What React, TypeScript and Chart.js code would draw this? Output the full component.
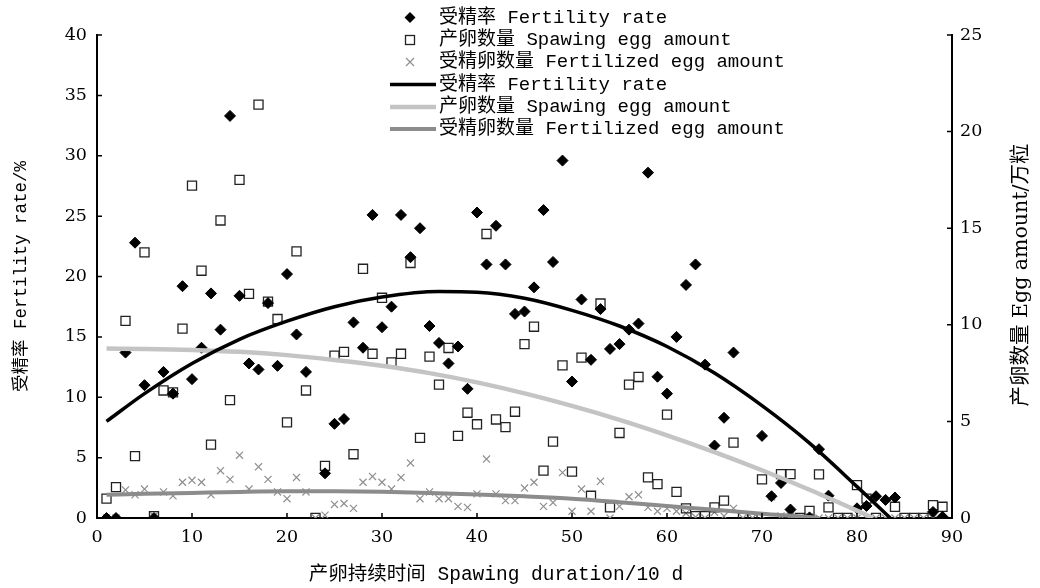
import React, { useEffect, useRef } from 'react';
import { Chart, registerables } from 'chart.js';

Chart.register(...registerables);

// Spawning duration (x, unit: 10 d)
const days = [
  1, 2, 3, 4, 5, 6, 7, 8, 9, 10, 11, 12, 13, 14, 15, 16, 17, 18, 19, 20,
  21, 22, 23, 24, 25, 26, 27, 28, 29, 30, 31, 32, 33, 34, 35, 36, 37, 38, 39, 40,
  41, 42, 43, 44, 45, 46, 47, 48, 49, 50, 51, 52, 53, 54, 55, 56, 57, 58, 59, 60,
  61, 62, 63, 64, 65, 66, 67, 68, 69, 70, 71, 72, 73, 74, 75, 76, 77, 78, 79, 80,
  81, 82, 83, 84, 85, 86, 87, 88, 89,
];

// 受精率 Fertility rate (%), left axis
const fertilityRate = [
  0, 0, 13.7, 22.8, 11.0, 0, 12.1, 10.3, 19.2, 11.5,
  14.1, 18.6, 15.6, 33.3, 18.4, 12.8, 12.3, 17.8, 12.6, 20.2,
  15.2, 12.1, null, 3.7, 7.8, 8.2, 16.2, 14.1, 25.1, 15.8,
  17.5, 25.1, 21.6, 24.0, 15.9, 14.5, 12.8, 14.2, 10.7, 25.3,
  21.0, 24.2, 21.0, 16.9, 17.1, 19.1, 25.5, 21.2, 29.6, 11.3,
  18.1, 13.1, 17.3, 14.0, 14.4, 15.6, 16.1, 28.6, 11.7, 10.3,
  15.0, 19.3, 21.0, 12.7, 6.0, 8.3, 13.7, null, null, 6.8,
  1.8, 2.9, 0.7, null, 0.05, 5.7, 1.85, null, null, 0.8,
  1.0, 1.8, 1.5, 1.7, null, null, null, 0.5, 0.1,
];

// 产卵数量 Spawing egg amount (万粒), right axis
const spawningEgg = [
  1.0, 1.6, 10.2, 3.2, 13.75, 0.1, 6.6, 6.5, 9.8, 17.2,
  12.8, 3.8, 15.4, 6.1, 17.5, 11.6, 21.4, 11.2, 10.3, 4.95,
  13.8, 6.6, 0, 2.7, 8.4, 8.6, 3.3, 12.9, 8.5, 11.4,
  8.05, 8.5, 13.2, 4.15, 8.35, 6.9, 8.8, 4.25, 5.45, 4.85,
  14.7, 5.1, 4.7, 5.5, 9.0, 9.9, 2.45, 3.95, 7.9, 2.4,
  8.3, 1.15, 11.1, 0.55, 4.4, 6.9, 7.3, 2.1, 1.75, 5.35,
  1.35, 0.5, 0.1, 0.1, 0.55, 0.9, 3.9, 0, 0, 2.0,
  null, 2.27, 2.27, 0, 0.37, 2.26, 0.55, 0, 0, 1.7,
  1.0, 0, null, 0.58, 0, 0, 0, 0.67, 0.58,
];

// 受精卵数量 Fertilized egg amount (万粒), right axis
const fertilizedEgg = [
  0, 0, 1.45, 1.2, 1.5, 0.1, 1.35, 1.15, 1.85, 1.95,
  1.85, 1.2, 2.45, 2.0, 3.25, 1.5, 2.65, 2.0, 1.35, 1.0,
  2.1, 1.35, 0, 0.15, 0.7, 0.75, 0.5, 1.85, 2.15, 1.85,
  1.5, 2.1, 2.85, 1.0, 1.35, 1.0, 1.0, 0.6, 0.55, 1.25,
  3.05, 1.25, 0.9, 0.9, 1.55, 1.85, 0.6, 0.8, 2.35, 0.35,
  1.5, 0.35, 1.9, 0, 0.6, 1.1, 1.2, 0.55, 0.35, 0.5,
  0.35, 0.25, 0.05, 0, 0.3, 0.1, 0.5, 0, 0, 0.1,
  1.1, 0.1, 0.1, 0, 0.05, 0, 0, 0, 0, 0,
  0, 0, 0, 0, 0, 0, 0, 0, 0,
];

// Fitted curves
const fertilityFitX = [1, 5, 10, 15, 20, 25, 30, 36, 40, 45, 50, 55, 60, 65, 70, 75, 80, 83.5];
const fertilityFitY = [8.0, 10.3, 12.8, 14.8, 16.3, 17.5, 18.3, 18.75, 18.7, 18.2, 17.2, 15.9, 14.2, 12.0, 9.3, 6.2, 2.6, 0];

const spawningFitX = [1, 5, 10, 15, 20, 25, 30, 35, 40, 45, 50, 55, 60, 65, 70, 75, 80, 81.7];
const spawningFitY = [8.77, 8.75, 8.7, 8.6, 8.43, 8.18, 7.88, 7.5, 7.02, 6.45, 5.8, 5.08, 4.28, 3.41, 2.47, 1.46, 0.38, 0];

const fertilizedFitX = [1, 5, 10, 15, 20, 25, 30, 35, 40, 45, 50, 55, 60, 65, 70, 75, 76];
const fertilizedFitY = [1.2, 1.25, 1.3, 1.35, 1.38, 1.38, 1.36, 1.3, 1.22, 1.12, 1.0, 0.82, 0.62, 0.43, 0.22, 0.05, 0];

const xTicks = [0, 10, 20, 30, 40, 50, 60, 70, 80, 90];

const legendMarkers = ['受精率 Fertility rate', '产卵数量 Spawing egg amount', '受精卵数量 Fertilized egg amount'];
const legendLines = ['受精率 Fertility rate', '产卵数量 Spawing egg amount', '受精卵数量 Fertilized egg amount'];

const xTitle = '产卵持续时间 Spawing duration/10 d';
const yTitle = '受精率 Fertility rate/%';
const y1Title = '产卵数量 Egg amount/万粒';

const MONO = "'Liberation Mono', 'Noto Sans CJK SC', monospace";
const SERIF = "'DejaVu Serif', 'Noto Sans CJK SC', serif";

const BLACK = '#000000';
const LIGHT = '#c4c4c4';
const DARK = '#8c8c8c';
const CROSS = '#8f8f8f';

function pts(xs: number[], ys: (number | null)[]) {
  return xs.map((x, i) => ({ x, y: ys[i] }));
}

const decorPlugin = {
  id: 'decor',
  afterDraw(chart: any) {
    const ctx = chart.ctx as CanvasRenderingContext2D;
    const xs = chart.scales.x;
    const ys = chart.scales.y;
    const y1 = chart.scales.y1;
    const area = chart.chartArea;
    ctx.save();
    // inward tick marks
    ctx.strokeStyle = '#000';
    ctx.lineWidth = 1.5;
    ctx.beginPath();
    xs.ticks.forEach((t: any) => {
      const p = xs.getPixelForValue(t.value);
      ctx.moveTo(p, area.bottom);
      ctx.lineTo(p, area.bottom - 5);
    });
    ys.ticks.forEach((t: any) => {
      const p = ys.getPixelForValue(t.value);
      ctx.moveTo(area.left, p);
      ctx.lineTo(area.left + 5, p);
    });
    y1.ticks.forEach((t: any) => {
      const p = y1.getPixelForValue(t.value);
      ctx.moveTo(area.right, p);
      ctx.lineTo(area.right - 5, p);
    });
    ctx.stroke();

    // legend
    const mx = 410;
    const tx = 439;
    const rows = [17.5, 40, 62, 84.5, 107, 129];
    ctx.font = `19px ${MONO}`;
    ctx.fillStyle = '#000';
    ctx.textBaseline = 'middle';
    ctx.textAlign = 'left';
    // diamond
    ctx.beginPath();
    ctx.moveTo(mx, rows[0] - 5.5);
    ctx.lineTo(mx + 5.5, rows[0]);
    ctx.lineTo(mx, rows[0] + 5.5);
    ctx.lineTo(mx - 5.5, rows[0]);
    ctx.closePath();
    ctx.fill();
    // square
    ctx.strokeStyle = '#222';
    ctx.lineWidth = 1.3;
    ctx.strokeRect(mx - 4.5, rows[1] - 4.5, 9, 9);
    // cross
    ctx.strokeStyle = CROSS;
    ctx.lineWidth = 1.2;
    ctx.beginPath();
    ctx.moveTo(mx - 4, rows[2] - 4);
    ctx.lineTo(mx + 4, rows[2] + 4);
    ctx.moveTo(mx + 4, rows[2] - 4);
    ctx.lineTo(mx - 4, rows[2] + 4);
    ctx.stroke();
    const lineCols = [BLACK, LIGHT, DARK];
    const lineW = [3.5, 4.5, 4];
    for (let i = 0; i < 3; i++) {
      ctx.strokeStyle = lineCols[i];
      ctx.lineWidth = lineW[i];
      ctx.beginPath();
      ctx.moveTo(390, rows[3 + i]);
      ctx.lineTo(436, rows[3 + i]);
      ctx.stroke();
    }
    for (let i = 0; i < 3; i++) {
      ctx.fillText(legendMarkers[i], tx, rows[i]);
      ctx.fillText(legendLines[i], tx, rows[3 + i]);
    }

    // bottom title
    ctx.font = `19.5px ${MONO}`;
    ctx.textAlign = 'center';
    ctx.fillText(xTitle, 496, 575);

    // right title, reading bottom to top
    ctx.translate(1022, 275);
    ctx.rotate(-Math.PI / 2);
    ctx.font = `20.5px ${SERIF}`;
    ctx.fillText(y1Title, 0, 0);
    ctx.restore();
  },
};

export default function App() {
  const ref = useRef<HTMLCanvasElement | null>(null);
  useEffect(() => {
    document.body.style.margin = '0';
    const canvas = ref.current;
    if (!canvas) return;
    const chart = new Chart(canvas, {
      type: 'scatter',
      data: {
        datasets: [
          {
            label: legendLines[0],
            data: pts(fertilityFitX, fertilityFitY),
            yAxisID: 'y',
            showLine: true,
            pointRadius: 0,
            borderColor: BLACK,
            borderWidth: 3.5,
            cubicInterpolationMode: 'monotone',
          } as any,
          {
            label: legendLines[1],
            data: pts(spawningFitX, spawningFitY),
            yAxisID: 'y1',
            showLine: true,
            pointRadius: 0,
            borderColor: LIGHT,
            borderWidth: 4.5,
            cubicInterpolationMode: 'monotone',
          } as any,
          {
            label: legendLines[2],
            data: pts(fertilizedFitX, fertilizedFitY),
            yAxisID: 'y1',
            showLine: true,
            pointRadius: 0,
            borderColor: DARK,
            borderWidth: 4,
            cubicInterpolationMode: 'monotone',
          } as any,
          {
            label: legendMarkers[0],
            data: pts(days, fertilityRate),
            yAxisID: 'y',
            pointStyle: 'rectRot',
            pointRadius: 5.5,
            backgroundColor: BLACK,
            borderColor: BLACK,
            borderWidth: 1,
          },
          {
            label: legendMarkers[1],
            data: pts(days, spawningEgg),
            yAxisID: 'y1',
            pointStyle: 'rect',
            pointRadius: 6.4,
            backgroundColor: 'rgba(255,255,255,0)',
            borderColor: '#222222',
            borderWidth: 1.3,
          },
          {
            label: legendMarkers[2],
            data: pts(days, fertilizedEgg),
            yAxisID: 'y1',
            pointStyle: 'crossRot',
            pointRadius: 5,
            backgroundColor: CROSS,
            borderColor: CROSS,
            borderWidth: 1.2,
          },
        ],
      },
      options: {
        responsive: false,
        animation: false,
        layout: { padding: { top: 35, left: 0, right: 0, bottom: 0 } },
        plugins: {
          legend: { display: false },
          tooltip: { enabled: false },
        },
        scales: {
          x: {
            type: 'linear',
            position: 'bottom',
            min: 0,
            max: 90,
            afterBuildTicks: (s: any) => {
              s.ticks = xTicks.map((v) => ({ value: v }));
            },
            ticks: {
              color: '#000',
              font: { family: SERIF, size: 17.5 },
              padding: 9,
              maxRotation: 0,
            },
            grid: { display: false, drawTicks: false },
            border: { display: true, color: '#000', width: 2 },
            afterFit: (s: any) => {
              s.height = 70;
            },
          },
          y: {
            type: 'linear',
            position: 'left',
            min: 0,
            max: 40,
            ticks: {
              stepSize: 5,
              color: '#000',
              font: { family: SERIF, size: 17.5 },
              padding: 10,
            },
            grid: { display: false, drawTicks: false },
            border: { display: true, color: '#000', width: 2 },
            title: {
              display: true,
              text: yTitle,
              color: '#000',
              font: { family: MONO, size: 17.5 },
              padding: { top: 11, bottom: 0 },
            },
            afterFit: (s: any) => {
              s.width = 97;
            },
          },
          y1: {
            type: 'linear',
            position: 'right',
            min: 0,
            max: 25,
            ticks: {
              stepSize: 5,
              color: '#000',
              font: { family: SERIF, size: 17.5 },
              padding: 8,
            },
            grid: { display: false, drawTicks: false },
            border: { display: true, color: '#000', width: 2 },
            afterFit: (s: any) => {
              s.width = 88;
            },
          },
        },
      },
      plugins: [decorPlugin],
    });
    return () => chart.destroy();
  }, []);
  return (
    <div style={{ width: 1040, height: 588, background: '#fff' }}>
      <canvas ref={ref} width={1040} height={588} style={{ display: 'block', width: 1040, height: 588 }} />
    </div>
  );
}
